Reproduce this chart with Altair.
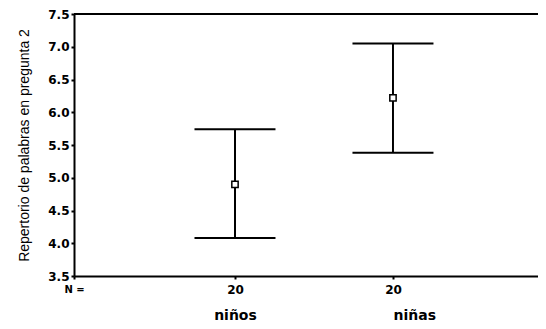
import altair as alt
import pandas as pd

# ---- data ----
categories = ["niños", "niñas"]
n_values = [20, 20]
means = [4.90, 6.22]
lower = [4.08, 5.38]
upper = [5.74, 7.05]
y_ticks = [3.5, 4.0, 4.5, 5.0, 5.5, 6.0, 6.5, 7.0, 7.5]
y_title = "Repertorio de palabras en pregunta 2"
n_label = "N ="

positions = [1, 2]
x_domain = [-0.019, 2.918]
y_domain = [3.5, 7.5]

df = pd.DataFrame({
    "pos": positions, "cat": categories, "n": n_values,
    "mean": means, "lo": lower, "hi": upper,
})
top_df = pd.DataFrame({"y": [y_domain[1]]})

xscale = alt.Scale(domain=x_domain, nice=False, zero=False)
yscale = alt.Scale(domain=y_domain, nice=False, zero=False)

# label expressions built from the arrays
n_expr = f"datum.value < 0.5 ? '{n_label}' : "
for p, n in zip(positions, n_values):
    n_expr += f"(abs(datum.value - {p}) < 0.1 ? '{n}' : "
n_expr += "''" + ")" * len(positions)

cat_expr = ""
for p, c in zip(positions, categories):
    cat_expr += f"(abs(datum.value - {p}) < 0.1 ? '{c}' : "
cat_expr += "''" + ")" * len(positions)

yaxis = alt.Axis(
    values=y_ticks, format=".1f", grid=False,
    labelFont="DejaVu Sans", labelFontWeight="bold", labelFontSize=12,
    labelColor="black", labelPadding=2,
    tickSize=3, tickWidth=2, tickColor="black",
    domainColor="black", domainWidth=2,
    title=y_title, titleFont="Liberation Sans", titleFontWeight="normal",
    titleFontSize=14, titleColor="black", titlePadding=16,
)

axis_n = alt.Axis(
    orient="bottom", values=[x_domain[0]] + positions, labelExpr=n_expr,
    grid=False, title=None, labelFlush=False, labelOverlap=False,
    labelFont="DejaVu Sans", labelFontWeight="bold",
    labelFontSize={"condition": {"test": "datum.value < 0.5", "value": 10}, "value": 12},
    labelColor="black", labelPadding=5,
    tickSize=3, tickWidth=2, tickColor="black",
    domainColor="black", domainWidth=2,
)

axis_cat = alt.Axis(
    orient="bottom", values=positions, labelExpr=cat_expr,
    grid=False, title=None, labelFlush=False, labelOverlap=False,
    domain=False, ticks=False,
    labelFont="DejaVu Sans", labelFontWeight="bold", labelFontSize=14,
    labelColor="black", labelPadding=32,
    labelAlign={"condition": {"test": "datum.value > 1.5", "value": "left"}, "value": "center"},
)

base = alt.Chart(df)

whisker = base.mark_rule(color="black", strokeWidth=2).encode(
    x=alt.X("pos:Q", scale=xscale, axis=axis_n),
    y=alt.Y("lo:Q", scale=yscale, axis=yaxis),
    y2="hi:Q",
)

cap_lo = base.mark_tick(orient="horizontal", size=81, thickness=2, color="black",
                        opacity=1).encode(
    x=alt.X("pos:Q", scale=xscale, axis=None),
    y=alt.Y("lo:Q", scale=yscale, axis=yaxis),
)
cap_hi = base.mark_tick(orient="horizontal", size=81, thickness=2, color="black",
                        opacity=1).encode(
    x=alt.X("pos:Q", scale=xscale, axis=None),
    y=alt.Y("hi:Q", scale=yscale, axis=yaxis),
)

mean_pt = base.mark_square(size=40, filled=True, fill="white", stroke="black",
                           strokeWidth=1.5, opacity=1).encode(
    x=alt.X("pos:Q", scale=xscale, axis=axis_cat),
    y=alt.Y("mean:Q", scale=yscale, axis=yaxis),
)

top_rule = alt.Chart(top_df).mark_rule(color="black", strokeWidth=2).encode(
    y=alt.Y("y:Q", scale=yscale, axis=yaxis),
)

chart = alt.layer(top_rule, whisker, cap_lo, cap_hi, mean_pt).resolve_axis(
    x="independent"
).properties(
    width=464, height=262,
    autosize=alt.AutoSizeParams(type="none"),
    padding={"left": 66, "top": 6, "right": 0, "bottom": 45},
).configure_view(stroke=None).configure(background="white")

chart.save("out.html", embed_options={"renderer": "svg", "actions": False})
